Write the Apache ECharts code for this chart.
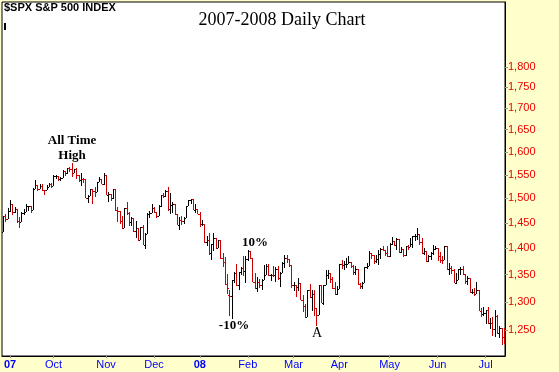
<!DOCTYPE html>
<html><head><meta charset="utf-8">
<script src="https://cdn.jsdelivr.net/npm/echarts@6/dist/echarts.min.js"></script>
<style>html,body{margin:0;padding:0;background:#ffffcc;}#c{width:559px;height:372px;}</style>
</head><body><div id="c"></div>
<script>
const dates = [
"2007-08-29","2007-08-30","2007-08-31",
"2007-09-04","2007-09-05","2007-09-06","2007-09-07","2007-09-10","2007-09-11","2007-09-12","2007-09-13","2007-09-14","2007-09-17","2007-09-18","2007-09-19","2007-09-20","2007-09-21","2007-09-24","2007-09-25","2007-09-26","2007-09-27","2007-09-28",
"2007-10-01","2007-10-02","2007-10-03","2007-10-04","2007-10-05","2007-10-08","2007-10-09","2007-10-10","2007-10-11","2007-10-12","2007-10-15","2007-10-16","2007-10-17","2007-10-18","2007-10-19","2007-10-22","2007-10-23","2007-10-24","2007-10-25","2007-10-26","2007-10-29","2007-10-30","2007-10-31",
"2007-11-01","2007-11-02","2007-11-05","2007-11-06","2007-11-07","2007-11-08","2007-11-09","2007-11-12","2007-11-13","2007-11-14","2007-11-15","2007-11-16","2007-11-19","2007-11-20","2007-11-21","2007-11-23","2007-11-26","2007-11-27","2007-11-28","2007-11-29","2007-11-30",
"2007-12-03","2007-12-04","2007-12-05","2007-12-06","2007-12-07","2007-12-10","2007-12-11","2007-12-12","2007-12-13","2007-12-14","2007-12-17","2007-12-18","2007-12-19","2007-12-20","2007-12-21","2007-12-24","2007-12-26","2007-12-27","2007-12-28","2007-12-31",
"2008-01-02","2008-01-03","2008-01-04","2008-01-07","2008-01-08","2008-01-09","2008-01-10","2008-01-11","2008-01-14","2008-01-15","2008-01-16","2008-01-17","2008-01-18","2008-01-22","2008-01-23","2008-01-24","2008-01-25","2008-01-28","2008-01-29","2008-01-30","2008-01-31",
"2008-02-01","2008-02-04","2008-02-05","2008-02-06","2008-02-07","2008-02-08","2008-02-11","2008-02-12","2008-02-13","2008-02-14","2008-02-15","2008-02-19","2008-02-20","2008-02-21","2008-02-22","2008-02-25","2008-02-26","2008-02-27","2008-02-28","2008-02-29",
"2008-03-03","2008-03-04","2008-03-05","2008-03-06","2008-03-07","2008-03-10","2008-03-11","2008-03-12","2008-03-13","2008-03-14","2008-03-17","2008-03-18","2008-03-19","2008-03-20","2008-03-24","2008-03-25","2008-03-26","2008-03-27","2008-03-28","2008-03-31",
"2008-04-01","2008-04-02","2008-04-03","2008-04-04","2008-04-07","2008-04-08","2008-04-09","2008-04-10","2008-04-11","2008-04-14","2008-04-15","2008-04-16","2008-04-17","2008-04-18","2008-04-21","2008-04-22","2008-04-23","2008-04-24","2008-04-25","2008-04-28","2008-04-29","2008-04-30",
"2008-05-01","2008-05-02","2008-05-05","2008-05-06","2008-05-07","2008-05-08","2008-05-09","2008-05-12","2008-05-13","2008-05-14","2008-05-15","2008-05-16","2008-05-19","2008-05-20","2008-05-21","2008-05-22","2008-05-23","2008-05-27","2008-05-28","2008-05-29","2008-05-30",
"2008-06-02","2008-06-03","2008-06-04","2008-06-05","2008-06-06","2008-06-09","2008-06-10","2008-06-11","2008-06-12","2008-06-13","2008-06-16","2008-06-17","2008-06-18","2008-06-19","2008-06-20","2008-06-23","2008-06-24","2008-06-25","2008-06-26","2008-06-27","2008-06-30",
"2008-07-01","2008-07-02","2008-07-03","2008-07-07","2008-07-08","2008-07-09","2008-07-10","2008-07-11","2008-07-14"
];
const open = [
1432,1463,1457,
1474,1489,1472,1478,1454,1452,1471,1472,1484,1484,1477,1520,1529,1519,1526,1518,1517,1525,1531,
1527,1547,1547,1540,1543,1558,1553,1565,1562,1554,1562,1549,1539,1541,1540,1501,1506,1520,1516,1514,1535,1541,1531,
1549,1508,1510,1502,1520,1476,1475,1454,1439,1481,1471,1451,1459,1433,1440,1417,1441,1407,1428,1469,1470,
1481,1472,1463,1485,1507,1505,1516,1478,1487,1488,1468,1446,1455,1453,1460,1484,1496,1498,1476,1478,
1468,1447,1447,1412,1416,1390,1409,1420,1401,1416,1381,1373,1333,1312,1311,1339,1352,1331,1354,1362,1356,
1379,1395,1381,1337,1326,1337,1331,1339,1349,1367,1349,1350,1349,1360,1343,1353,1372,1381,1380,1368,
1331,1331,1327,1334,1304,1293,1273,1321,1309,1315,1288,1277,1331,1298,1330,1350,1353,1341,1326,1315,
1323,1370,1368,1369,1370,1373,1366,1354,1361,1333,1328,1334,1365,1366,1390,1388,1376,1380,1389,1398,1396,1391,
1386,1409,1414,1407,1418,1393,1398,1388,1404,1403,1409,1424,1425,1427,1413,1391,1394,1376,1385,1391,1398,
1400,1386,1378,1377,1404,1361,1362,1358,1335,1340,1360,1360,1351,1338,1343,1318,1318,1314,1322,1283,1278,
1280,1285,1262,1263,1252,1274,1245,1253,1239
];
const high = [
1463,1468,1481,
1496,1489,1482,1478,1462,1473,1479,1489,1485,1484,1521,1538,1529,1530,1530,1518,1529,1532,1533,
1549,1549,1547,1545,1561,1558,1565,1566,1576,1563,1565,1549,1553,1543,1540,1508,1520,1520,1524,1535,1545,1541,1553,
1549,1513,1510,1520,1520,1483,1475,1464,1481,1493,1473,1462,1460,1453,1440,1441,1446,1429,1470,1474,1488,
1482,1472,1487,1508,1511,1518,1523,1511,1492,1488,1468,1461,1464,1462,1485,1497,1499,1498,1489,1478,
1472,1456,1447,1424,1430,1409,1429,1420,1417,1416,1391,1383,1351,1322,1339,1355,1369,1354,1365,1385,1386,
1396,1395,1381,1352,1345,1341,1341,1368,1370,1370,1351,1367,1364,1367,1355,1374,1388,1387,1380,1368,
1336,1331,1344,1334,1313,1296,1321,1333,1321,1321,1288,1331,1331,1330,1359,1358,1353,1346,1336,1329,
1370,1378,1375,1381,1386,1373,1368,1367,1361,1335,1337,1365,1372,1395,1390,1388,1387,1397,1400,1405,1397,1404,
1410,1422,1415,1421,1419,1403,1398,1404,1407,1420,1424,1427,1440,1427,1420,1400,1394,1388,1392,1406,1404,
1400,1393,1386,1405,1404,1371,1366,1360,1353,1361,1364,1367,1351,1347,1343,1324,1326,1336,1322,1288,1291,
1285,1290,1272,1273,1285,1277,1257,1253,1254
];
const low = [
1432,1451,1457,
1472,1466,1470,1449,1439,1452,1466,1472,1474,1471,1476,1519,1516,1519,1516,1507,1517,1525,1521,
1527,1542,1536,1537,1543,1547,1551,1555,1546,1554,1540,1535,1527,1532,1500,1490,1506,1489,1504,1514,1535,1530,1529,
1507,1492,1494,1499,1475,1451,1448,1438,1439,1466,1443,1443,1431,1420,1415,1417,1407,1399,1428,1460,1470,
1470,1460,1463,1483,1501,1504,1475,1469,1471,1467,1445,1436,1445,1447,1460,1484,1489,1476,1470,1468,
1442,1444,1411,1404,1388,1378,1395,1398,1401,1380,1365,1330,1314,1274,1270,1334,1329,1322,1350,1348,1335,
1375,1380,1336,1324,1318,1325,1321,1339,1349,1347,1338,1345,1336,1339,1327,1353,1363,1371,1364,1326,
1320,1309,1320,1304,1282,1272,1273,1307,1283,1274,1257,1277,1298,1295,1330,1342,1335,1324,1313,1313,
1323,1361,1358,1362,1370,1362,1350,1350,1331,1324,1324,1334,1361,1366,1380,1370,1372,1368,1379,1394,1386,1384,
1383,1406,1404,1397,1391,1390,1384,1386,1396,1403,1401,1414,1416,1407,1389,1388,1374,1374,1378,1388,1396,
1375,1371,1370,1377,1359,1350,1351,1335,1332,1340,1350,1350,1333,1330,1316,1315,1310,1314,1283,1273,1274,
1261,1261,1252,1240,1238,1244,1236,1225,1226
];
const close = [
1463,1457,1474,
1489,1472,1478,1454,1452,1471,1472,1484,1484,1477,1520,1529,1519,1526,1518,1517,1525,1531,1527,
1547,1547,1540,1543,1558,1553,1565,1562,1554,1562,1549,1539,1541,1540,1501,1506,1520,1516,1514,1535,1541,1531,1549,
1508,1510,1502,1520,1476,1475,1454,1439,1481,1471,1451,1459,1433,1440,1417,1441,1407,1428,1469,1470,1481,
1472,1463,1485,1507,1505,1516,1478,1487,1488,1468,1446,1455,1453,1460,1484,1496,1498,1476,1478,1468,
1447,1447,1412,1416,1390,1409,1420,1401,1416,1381,1373,1333,1325,1311,1339,1352,1331,1354,1362,1356,1379,
1395,1381,1337,1326,1337,1331,1339,1349,1367,1349,1350,1349,1360,1343,1353,1372,1381,1380,1368,1331,
1331,1327,1334,1304,1293,1273,1321,1309,1315,1288,1277,1331,1298,1330,1350,1353,1341,1326,1315,1323,
1370,1368,1369,1370,1373,1366,1354,1361,1333,1328,1334,1365,1366,1390,1388,1376,1380,1389,1398,1396,1391,1386,
1409,1414,1407,1418,1393,1398,1388,1404,1403,1409,1424,1425,1427,1413,1391,1394,1376,1385,1391,1398,1400,
1386,1378,1377,1404,1361,1362,1358,1335,1340,1360,1360,1351,1338,1343,1318,1318,1314,1322,1283,1278,1280,
1285,1262,1263,1252,1274,1245,1253,1239,1228
];
const yTicks = [1250,1300,1350,1400,1450,1500,1550,1600,1650,1700,1750,1800];
const monthTickDates = ["2007-09-04","2007-10-01","2007-11-01","2007-12-03","2008-01-02","2008-02-01","2008-03-03","2008-04-01","2008-05-01","2008-06-02","2008-07-01"];
const monthTickLabels = ["07","Oct","Nov","Dec","08","Feb","Mar","Apr","May","Jun","Jul"];
const yearLabels = ["07","08"];

const labelOf = {};
monthTickDates.forEach((d, i) => { labelOf[d] = monthTickLabels[i]; });
function fmtNum(v) { return String(Math.round(v)).replace(/\B(?=(\d{3})+(?!\d))/g, ','); }

const chart = echarts.init(document.getElementById('c'), null, {renderer: 'canvas'});
const UP = '#000000', DOWN = '#cc0000';
const data = dates.map((d, i) => [i, open[i], high[i], low[i], close[i], (i > 0 && close[i] < close[i - 1]) ? 1 : 0]);

chart.setOption({
  backgroundColor: '#ffffcc',
  animation: false,
  grid: {left: 2, top: 2, right: 54, bottom: 16, show: true, backgroundColor: '#ffffff', borderColor: '#000', borderWidth: 1},
  xAxis: {
    type: 'category', data: dates, boundaryGap: true,
    axisLine: {show: true, lineStyle: {color: '#000', width: 1}},
    axisTick: {show: true, length: 2, alignWithLabel: true, lineStyle: {color: '#999'}, interval: (idx, val) => labelOf[val] !== undefined},
    axisLabel: {
      interval: (idx, val) => labelOf[val] !== undefined,
      formatter: (val) => { const s = labelOf[val] || ''; return yearLabels.includes(s) ? '{b|' + s + '}' : s; },
      color: '#0000ff', fontSize: 11, fontFamily: 'Liberation Sans', margin: 3,
      rich: {b: {fontWeight: 'bold', color: '#0000ff', fontSize: 11, fontFamily: 'Liberation Sans'}}
    },
    splitLine: {show: false}
  },
  yAxis: {
    type: 'log', logBase: 10, position: 'right', min: 1206, max: 1969,
    axisLine: {show: true, lineStyle: {color: '#000'}},
    axisTick: {show: true, length: 3, lineStyle: {color: '#999'}, customValues: yTicks},
    axisLabel: {customValues: yTicks, color: '#ee0000', fontSize: 11, fontFamily: 'Liberation Sans', margin: 3, formatter: (v) => fmtNum(v)},
    splitLine: {show: false}
  },
  series: [{
    type: 'custom',
    data: data,
    encode: {x: 0, y: [1, 2, 3, 4]},
    clip: true,
    renderItem: (params, api) => {
      const i = api.value(0);
      const o = api.coord([i, api.value(1)]);
      const h = api.coord([i, api.value(2)]);
      const l = api.coord([i, api.value(3)]);
      const c = api.coord([i, api.value(4)]);
      const color = api.value(5) ? DOWN : UP;
      const X = Math.round(o[0]);
      const yt = Math.round(h[1]), yb = Math.round(l[1]);
      return {type: 'group', children: [
        {type: 'rect', shape: {x: X, y: yt, width: 1, height: Math.max(1, yb - yt)}, style: {fill: color}},
        {type: 'rect', shape: {x: X - 1, y: Math.round(o[1]), width: 1, height: 1}, style: {fill: color}},
        {type: 'rect', shape: {x: X + 1, y: Math.round(c[1]), width: 1, height: 1}, style: {fill: color}}
      ]};
    }
  }],
  graphic: [
    {type: 'text', left: 4, top: 2, z: 10, style: {text: '$SPX S&P 500 INDEX', font: 'bold 11px "Liberation Sans"', fill: '#000'}},
    {type: 'rect', shape: {x: 4, y: 23, width: 2, height: 7}, style: {fill: '#000'}, z: 10},
    {type: 'text', x: 282, y: 20, z: 10, style: {text: '2007-2008 Daily Chart', font: '18px "Liberation Serif"', fill: '#000', align: 'center', verticalAlign: 'middle'}},
    {type: 'text', x: 72, y: 141, z: 10, style: {text: 'All Time', font: 'bold 13px "Liberation Serif"', fill: '#000', align: 'center', verticalAlign: 'middle'}},
    {type: 'text', x: 72, y: 156, z: 10, style: {text: 'High', font: 'bold 13px "Liberation Serif"', fill: '#000', align: 'center', verticalAlign: 'middle'}},
    {type: 'text', x: 255, y: 243, z: 10, style: {text: '10%', font: 'bold 13px "Liberation Serif"', fill: '#000', align: 'center', verticalAlign: 'middle'}},
    {type: 'text', x: 234, y: 326, z: 10, style: {text: '-10%', font: 'bold 13px "Liberation Serif"', fill: '#000', align: 'center', verticalAlign: 'middle'}},
    {type: 'text', x: 317, y: 333, z: 10, style: {text: 'A', font: '14px "Liberation Serif"', fill: '#000', align: 'center', verticalAlign: 'middle'}}
  ]
});
</script></body></html>
